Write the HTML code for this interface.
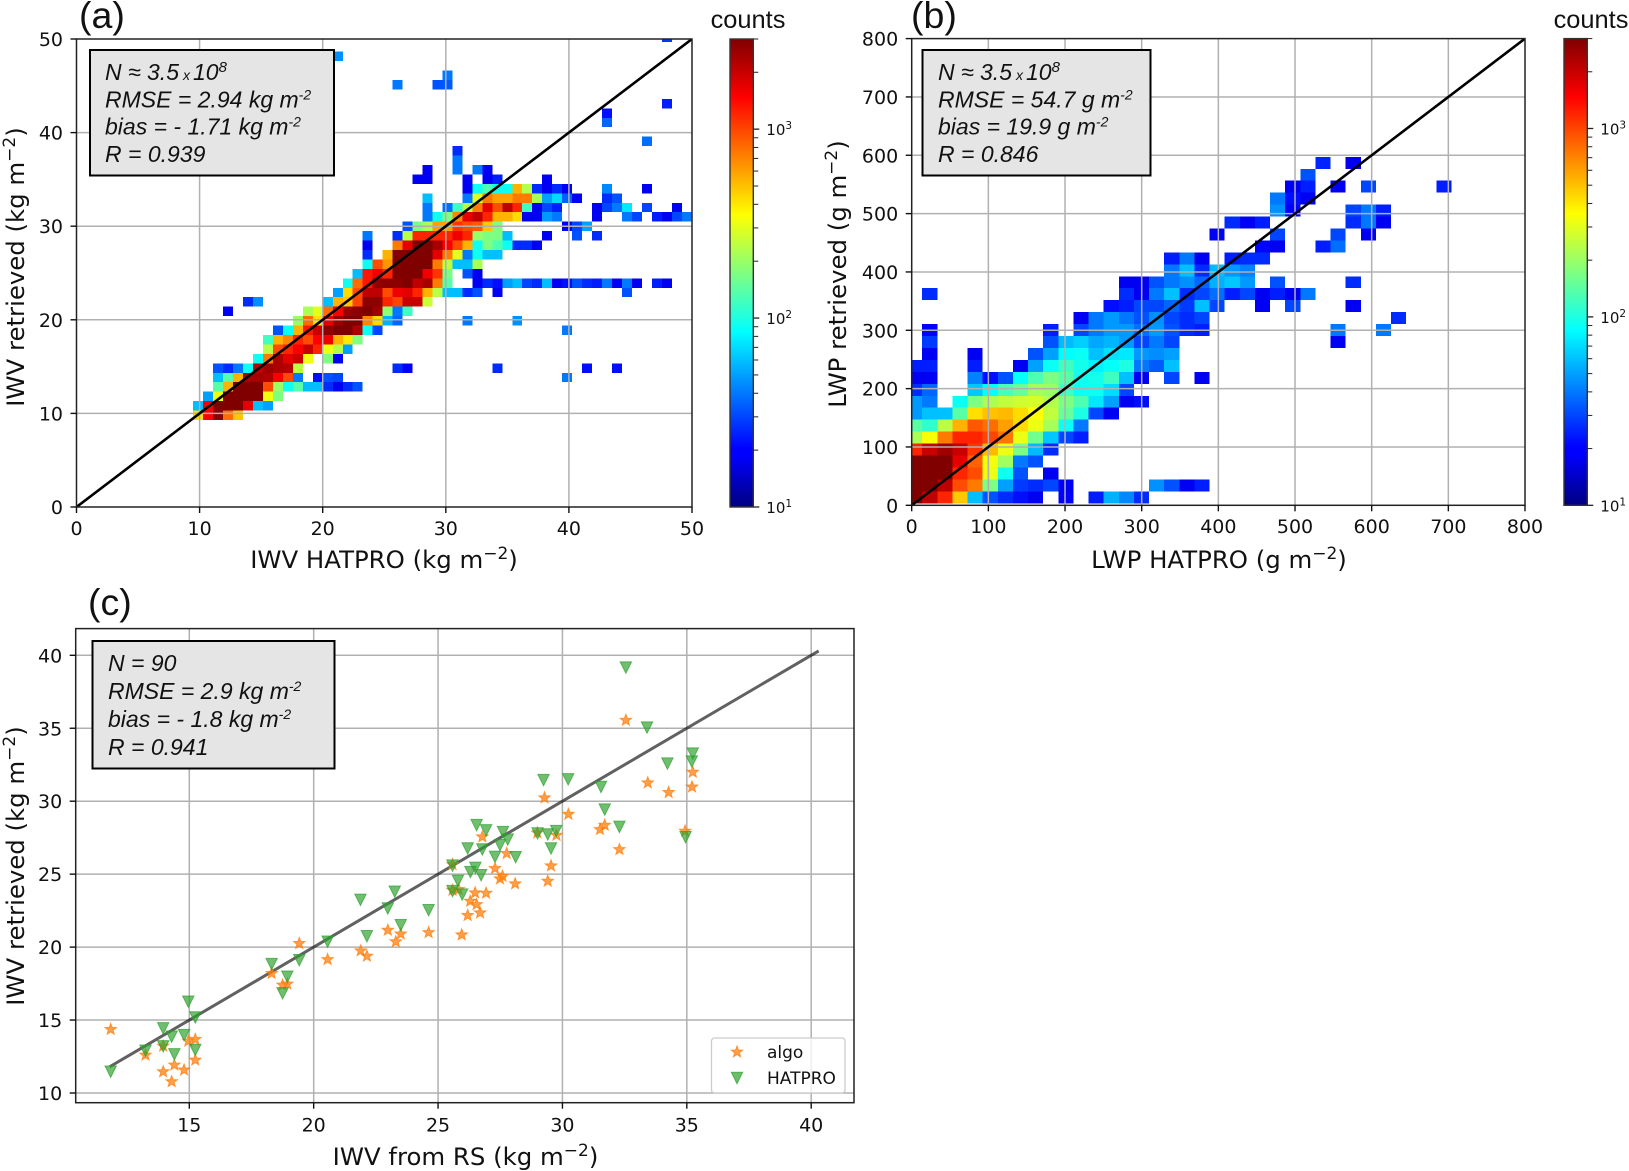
<!DOCTYPE html>
<html lang="en">
<head>
<meta charset="utf-8">
<title>IWV and LWP retrieval comparison</title>
<style>
html,body{margin:0;padding:0;background:#fff;width:1629px;height:1171px;overflow:hidden}
svg{display:block}
.tick{font-family:"DejaVu Sans","Liberation Sans",sans-serif;font-size:19px;fill:#111}
.axis{font-family:"DejaVu Sans","Liberation Sans",sans-serif;font-size:24.4px;fill:#111}
.panel{font-family:"Liberation Sans",sans-serif;font-size:37.5px;fill:#111}
.stats{font-family:"Liberation Sans",sans-serif;font-size:23px;font-style:italic;fill:#111}
.cb{font-family:"Liberation Sans",sans-serif;font-size:25.4px;fill:#111}
.leg{font-family:"DejaVu Sans","Liberation Sans",sans-serif;font-size:17px;fill:#111}
</style>
</head>
<body>
<svg id="figure" xmlns="http://www.w3.org/2000/svg" width="1629" height="1171" viewBox="0 0 1629 1171">
<defs>
<clipPath id="clip-a"><rect x="76.5" y="39" width="615.5" height="468"/></clipPath>
<clipPath id="clip-b"><rect x="911.7" y="38.6" width="613.3" height="466.7"/></clipPath>
<clipPath id="clip-c"><rect x="75.7" y="628.6" width="778.3" height="474.1"/></clipPath>
<linearGradient id="jet-gradient" x1="0" y1="1" x2="0" y2="0">
<stop offset="0" stop-color="#000080"/><stop offset="0.11" stop-color="#0000ff"/><stop offset="0.125" stop-color="#0000ff"/>
<stop offset="0.375" stop-color="#00ffff"/><stop offset="0.5" stop-color="#80ff80"/><stop offset="0.625" stop-color="#ffff00"/>
<stop offset="0.875" stop-color="#ff0000"/><stop offset="1" stop-color="#800000"/>
</linearGradient>
</defs>

<g id="panel-a">
<g id="a-cells" clip-path="url(#clip-a)"></g>
<g id="a-grid"></g>
<line id="a-diag" stroke="#000" stroke-width="2.6" clip-path="url(#clip-a)"/>
<rect x="76.5" y="39" width="615.5" height="468" fill="none" stroke="#222" stroke-width="1.5"/>
<g id="a-ticks"></g>
<rect x="90" y="50" width="244" height="125.5" fill="#e5e5e5" stroke="#000" stroke-width="2"/>
<text class="stats" x="105" y="80">N ≈ 3.5<tspan dx="4" font-size="14">x</tspan><tspan dx="3">10</tspan><tspan dy="-8" font-size="15">8</tspan></text>
<text class="stats" x="105" y="107.5">RMSE = 2.94 kg m<tspan dy="-8" font-size="14">-2</tspan></text>
<text class="stats" x="105" y="134.5">bias = - 1.71 kg m<tspan dy="-8" font-size="14">-2</tspan></text>
<text class="stats" x="105" y="162">R = 0.939</text>
<text class="panel" x="79" y="28">(a)</text>
<text class="axis" x="384" y="568" text-anchor="middle">IWV HATPRO (kg m<tspan dy="-9" font-size="17">−2</tspan><tspan dy="9">)</tspan></text>
<text class="axis" transform="translate(24,267) rotate(-90)" text-anchor="middle">IWV retrieved (kg m<tspan dy="-9" font-size="17">−2</tspan><tspan dy="9">)</tspan></text>
<rect x="730" y="39" width="23.3" height="468" fill="url(#jet-gradient)" stroke="#333" stroke-width="1.4"/>
<g id="a-cbar"></g>
<text class="cb" x="748" y="28" text-anchor="middle">counts</text>
</g>

<g id="panel-b">
<g id="b-cells" clip-path="url(#clip-b)"></g>
<g id="b-grid"></g>
<line id="b-diag" stroke="#000" stroke-width="2.6" clip-path="url(#clip-b)"/>
<rect x="911.7" y="38.6" width="613.3" height="466.7" fill="none" stroke="#222" stroke-width="1.5"/>
<g id="b-ticks"></g>
<rect x="922.5" y="50" width="228" height="125.5" fill="#e5e5e5" stroke="#000" stroke-width="2"/>
<text class="stats" x="938" y="80">N ≈ 3.5<tspan dx="4" font-size="14">x</tspan><tspan dx="3">10</tspan><tspan dy="-8" font-size="15">8</tspan></text>
<text class="stats" x="938" y="107.5">RMSE = 54.7 g m<tspan dy="-8" font-size="14">-2</tspan></text>
<text class="stats" x="938" y="134.5">bias = 19.9 g m<tspan dy="-8" font-size="14">-2</tspan></text>
<text class="stats" x="938" y="162">R = 0.846</text>
<text class="panel" x="911" y="28">(b)</text>
<text class="axis" x="1219" y="568" text-anchor="middle">LWP HATPRO (g m<tspan dy="-9" font-size="17">−2</tspan><tspan dy="9">)</tspan></text>
<text class="axis" transform="translate(846,274) rotate(-90)" text-anchor="middle">LWP retrieved (g m<tspan dy="-9" font-size="17">−2</tspan><tspan dy="9">)</tspan></text>
<rect x="1564" y="38.6" width="23.3" height="466.7" fill="url(#jet-gradient)" stroke="#333" stroke-width="1.4"/>
<g id="b-cbar"></g>
<text class="cb" x="1591" y="28" text-anchor="middle">counts</text>
</g>

<g id="panel-c">
<g id="c-grid"></g>
<line id="c-fit" stroke="#000" stroke-opacity="0.62" stroke-width="3"/>
<g id="c-marks" clip-path="url(#clip-c)"></g>
<rect x="75.7" y="628.6" width="778.3" height="474.1" fill="none" stroke="#222" stroke-width="1.5"/>
<g id="c-ticks"></g>
<rect x="92.5" y="641" width="242" height="127.5" fill="#e5e5e5" stroke="#000" stroke-width="2"/>
<text class="stats" x="108" y="671">N = 90</text>
<text class="stats" x="108" y="699">RMSE = 2.9 kg m<tspan dy="-8" font-size="14">-2</tspan></text>
<text class="stats" x="108" y="727">bias = - 1.8 kg m<tspan dy="-8" font-size="14">-2</tspan></text>
<text class="stats" x="108" y="755">R = 0.941</text>
<text class="panel" x="88" y="615">(c)</text>
<text class="axis" x="465.5" y="1165" text-anchor="middle">IWV from RS (kg m<tspan dy="-9" font-size="17">−2</tspan><tspan dy="9">)</tspan></text>
<text class="axis" transform="translate(24,866) rotate(-90)" text-anchor="middle">IWV retrieved (kg m<tspan dy="-9" font-size="17">−2</tspan><tspan dy="9">)</tspan></text>
<g>
<rect x="711.5" y="1038" width="133.5" height="55" rx="3" fill="#fff" fill-opacity="0.8" stroke="#ccc" stroke-width="1.3"/>
<path id="legend-star" fill="#ff7f0e" fill-opacity="0.75" stroke="#ff7f0e" stroke-opacity="0.75"/>
<text class="leg" x="767" y="1058">algo</text>
<path id="legend-tri" fill="#2ca02c" fill-opacity="0.7" stroke="#2ca02c" stroke-opacity="0.7"/>
<text class="leg" x="767" y="1084">HATPRO</text>
</g>
</g>
</svg>

<script>
/* ---------- chart data ---------- */
const iwvTicks = [0, 10, 20, 30, 40, 50];
const lwpTicks = [0, 100, 200, 300, 400, 500, 600, 700, 800];
const scatterXTicks = [15, 20, 25, 30, 35, 40];
const scatterYTicks = [10, 15, 20, 25, 30, 35, 40];
const colorbarMajorTicks = [10, 100, 1000];
const colorbarMinorTicks = [20, 30, 40, 50, 60, 70, 80, 90, 200, 300, 400, 500, 600, 700, 800, 900, 2000, 3000];
const countsMin = 10;
const countsMax = 3000;

/* each entry: y-bin index, first x-bin index, then counts for consecutive x-bins */
const iwvHeatRows = [
[0,0,429,1500,2800,800,480],
[1,0,59,1500,3000,3000,3000,1700,59,50],
[2,1,50,324,3000,3000,3000,3000,324,173],
[3,2,138,540,3000,3000,3000,960,200,92,138,59,59,26,19,26,32],
[4,2,59,138,540,2400,2400,2300,1500,960,40,0,22,32,30],
[4,37,40],
[5,2,32,26,40,92,2100,2500,2300,2200,237],
[5,20,26,19],[5,30,26],[5,39,22],[5,42,22],
[6,6,92,740,2300,1700,2000,324,0,173,19],
[7,7,237,960,1200,1500,2000,1200,324,237,50],
[8,7,120,540,700,1200,960,1500,1600,540,400,173],
[9,8,32,92,540,1300,2000,2800,3000,3000,2300,92,30],
[9,37,40],
[10,10,200,800,420,1700,2600,3000,3000,700,430,55,36],
[10,27,40],[10,32,46],
[11,3,19],
[11,11,220,300,800,1500,2600,2800,3000,2500,190,40,120],
[12,5,26,45],
[12,13,59,540,480,1000,2800,2800,1200,1000,2000,2000,260],
[13,14,50,429,960,2100,2100,960,1600,1700,1200,540,237,59,59,26,32,0,19],
[13,43,32],
[14,15,92,800,1300,2700,2800,2800,3000,2100,2400,740,138,0,0,19,26,22,50,59,30,26,59,19,22,32,26,24,40,19,40,19,0,24,19],
[15,16,59,1300,1600,1200,3000,3000,3000,1600,1100,165,0,32,19],
[16,17,92,960,640,3000,3000,3000,3000,740,237,59,59,220],
[17,17,26,0,540,3000,3000,3000,3000,1700,740,300,40,92,60,60],
[18,17,19,0,0,740,1700,3000,3000,2400,1500,960,540,92,170,130,92,26,26,19],
[19,17,40,0,0,26,237,1200,1200,1200,1200,1600,1200,200,170,170,59,0,0,0,19,0,0,32,0,26],
[20,21,32,170,220,600,600,1100,960,900,480,170,0,0,0,0,0,0,19,30,50],
[21,23,40,92,170,700,1700,2100,1200,540,540,429,19,19,48,40,0,0,0,19,0,0,40,30,0,24,19,30,40],
[22,23,40,0,38,120,240,740,1700,960,2100,1200,120,19,30,24,0,0,0,19,30,40,75,0,30,0,0,19],
[23,23,59,0,0,0,40,300,740,600,600,740,740,220,50,70,35,19,0,0,26,32],
[24,27,19,92,130,92,92,540,230,26,19,26,19,0,0,0,44,0,0,0,19],
[25,22,19,19,0,0,0,19,0,19,24,0,0,0,0,19],
[26,23,19,0,0,40,0,40,19],
[27,26,40],
[28,26,26],
[29,45,38],
[31,41,36],
[32,41,22],
[33,47,24],
[35,20,40,0,0,0,32,34],
[36,25,40],
[38,14,46],
[40,47,28]
];

const lwpHeatRows = [
[0,0,3000,2100,1200,480,59,32,26,22,19,0,20,0,24,55,44,26],
[1,0,3000,3000,2100,960,740,170,50,28,26,30,19,0,0,0,0,0,46,32,19,24],
[2,0,3000,3000,3000,1200,960,320,92,32,0,19],
[3,0,3000,3000,3000,1700,850,330,210,40,32],
[4,0,1200,2000,2500,2000,1100,520,320,170,58,26],
[5,0,220,340,740,1200,1200,1000,760,320,160,62,30,24],
[6,0,140,110,240,540,900,800,600,430,320,220,90,40],
[7,0,48,60,60,140,420,500,520,430,350,250,150,100,30,19],
[8,0,48,40,0,90,170,220,250,270,280,230,170,130,75,50,19,22],
[9,0,26,36,0,0,62,85,125,150,210,200,120,90,92,70,30],
[10,0,19,19,0,0,42,22,32,88,130,170,140,92,95,120,60,19,0,30,0,19],
[10,19,19],
[11,0,24,24,0,0,24,0,0,19,50,90,120,95,80,88,100,40,34,60],
[12,1,19,0,0,19,0,0,0,32,50,85,90,60,72,75,48,45,50],
[13,1,28,0,0,0,0,0,0,0,32,58,65,52,56,48,30,40,30],
[13,28,19],
[14,1,20,0,0,0,0,0,0,0,24,0,30,40,48,48,38,48,32,26,24],
[14,28,40,0,0,40],
[15,11,19,40,48,40,32,46,30,26,30],
[15,32,26],
[16,13,22,24,30,30,36,28,60,30],
[16,23,19,0,30,0,0,0,19],
[17,1,26],
[17,14,26,19,40,60,26,30,38,24,30,19,24,19,40],
[18,14,19,19,32,40,46,36,55,62,48,0,32,0,0,0,0,26],
[19,17,40,60,26,58,48,42],
[20,17,24,40,19,0,24,26,26],
[21,23,21,19,0,0,24,38],
[22,20,19,0,0,0,30,0,0,0,30,0,19],
[23,21,26,19,24,0,0,0,0,0,26,40,19],
[24,24,46,20,0,0,0,30,40,24],
[25,24,40,22,19],
[26,25,19,24,0,19,0,30,0,0,0,0,24],
[27,26,32],
[28,27,25,0,19]
];

const algoX = [11.84,13.24,13.95,13.95,14.29,14.4,14.79,14.96,15.24,15.24,18.31,18.75,18.94,19.42,20.56,21.89,22.14,22.98,23.3,23.5,24.62,25.95,29.28,30.24,33.43,34.27,35.21,34.93,31.51,31.7,32.29,26.78,28.99,29.76,27.76,29.54,29.41,25.58,27.29,27.59,27.49,28.1,25.58,25.83,26.49,26.93,26.29,26.55,26.69,26.19,32.55,35.24];
const algoY = [14.36,12.6,13.22,11.46,10.78,11.92,11.58,13.56,13.68,12.26,18.2,17.4,17.47,20.25,19.15,19.75,19.38,21.16,20.37,20.9,21.0,20.84,30.23,29.11,31.26,30.6,30.98,27.95,28.06,28.36,26.69,27.56,27.83,27.67,26.42,25.57,24.52,25.66,25.39,24.86,24.68,24.34,23.9,23.95,23.72,23.7,23.15,22.92,22.35,22.17,35.55,31.99];
const hatproX = [11.84,13.24,13.95,13.95,14.29,14.4,14.79,14.96,15.24,15.24,18.31,18.75,18.94,19.42,20.56,21.88,22.14,22.98,23.26,23.5,24.62,31.55,31.7,32.29,34.95,29.24,30.23,26.55,26.93,27.61,27.8,29.0,29.41,29.75,29.54,27.49,26.78,26.19,27.29,28.12,25.58,26.5,26.3,26.73,25.8,25.58,25.97,32.55,33.4,35.24,35.2,34.22];
const hatproY = [11.46,12.9,14.43,13.2,13.86,12.65,13.97,16.26,15.18,12.95,18.84,16.83,17.97,19.1,20.37,23.24,20.75,22.65,23.8,21.5,22.53,30.98,29.43,28.24,27.53,31.45,31.5,28.36,28.0,27.88,27.37,27.79,27.72,27.95,26.76,26.99,26.69,26.76,26.19,26.16,25.59,25.43,25.14,24.93,24.54,23.84,23.6,39.16,35.05,33.26,32.72,32.58];
const referenceLine = [11.8, 40.3];

/* ---------- axis functions ---------- */
const NS = 'http://www.w3.org/2000/svg';
function linear(d0, d1, r0, r1) { return v => r0 + (v - d0) * (r1 - r0) / (d1 - d0); }
const axA = { x: linear(0, 50, 76.5, 692), y: linear(0, 50, 507, 39) };
const axB = { x: linear(0, 800, 911.7, 1525), y: linear(0, 800, 505.3, 38.6) };
const axC = { x: linear(15, 40, 189.3, 811.2), y: linear(10, 40, 1093, 655.3) };
function logPos(v, bottom, top) { return bottom + (Math.log10(v) - Math.log10(countsMin)) / (Math.log10(countsMax) - Math.log10(countsMin)) * (top - bottom); }
function clamp(v) { return Math.max(0, Math.min(1, v)); }
function jet(t) {
  const r = clamp(Math.min(4 * t - 1.5, -4 * t + 4.5));
  const g = clamp(Math.min(4 * t - 0.5, -4 * t + 3.5));
  const b = clamp(Math.min(4 * t + 0.5, -4 * t + 2.5));
  return 'rgb(' + Math.round(r * 255) + ',' + Math.round(g * 255) + ',' + Math.round(b * 255) + ')';
}
function countColor(v) { return jet(clamp(Math.log(v / countsMin) / Math.log(countsMax / countsMin))); }
function make(tag, parent, attrs) {
  const e = document.createElementNS(NS, tag);
  for (const k in attrs) e.setAttribute(k, attrs[k]);
  parent.appendChild(e);
  return e;
}

function drawHeat(parentId, rows, ax, x0, dx, y0, dy) {
  const parent = document.getElementById(parentId);
  rows.forEach(row => {
    const rowBin = row[0], firstCol = row[1];
    row.slice(2).forEach((count, i) => {
      if (!count) return;
      const col = firstCol + i;
      const left = ax.x(x0 + col * dx), right = ax.x(x0 + (col + 1) * dx);
      const bottom = ax.y(y0 + rowBin * dy), top = ax.y(y0 + (rowBin + 1) * dy);
      const cell = make('rect', parent, { x: left, y: top, width: right - left, height: bottom - top, fill: countColor(count), 'shape-rendering': 'crispEdges' });
      
      
    });
  });
}

function drawGrid(parentId, ax, xTicks, yTicks, left, right, top, bottom) {
  const parent = document.getElementById(parentId);
  xTicks.forEach(t => {
    const g = make('line', parent, { x1: ax.x(t), x2: ax.x(t), y1: top, y2: bottom, stroke: '#b0b0b0', 'stroke-width': 1.5 });
    
    
  });
  yTicks.forEach(t => {
    const g = make('line', parent, { x1: left, x2: right, y1: ax.y(t), y2: ax.y(t), stroke: '#b0b0b0', 'stroke-width': 1.5 });
    
    
  });
}

function drawTicks(parentId, ax, xTicks, yTicks, left, bottom, xBase) {
  const parent = document.getElementById(parentId);
  xTicks.forEach(t => {
    const m = make('line', parent, { x1: ax.x(t), x2: ax.x(t), y1: bottom, y2: bottom + 6, stroke: '#111', 'stroke-width': 1.4 });
    
    
    const l = make('text', parent, { x: ax.x(t), y: xBase, 'text-anchor': 'middle', class: 'tick' });
    
    
    l.textContent = t;
  });
  yTicks.forEach(t => {
    const m = make('line', parent, { x1: left - 6, x2: left, y1: ax.y(t), y2: ax.y(t), stroke: '#111', 'stroke-width': 1.4 });
    
    
    const l = make('text', parent, { x: left - 13.5, y: ax.y(t) + 7, 'text-anchor': 'end', class: 'tick' });
    
    
    l.textContent = t;
  });
}

function drawColorbarTicks(parentId, right, bottom, top) {
  const parent = document.getElementById(parentId);
  colorbarMinorTicks.forEach(t => {
    const y = logPos(t, bottom, top);
    const m = make('line', parent, { x1: right, x2: right + 5, y1: y, y2: y, stroke: '#222', 'stroke-width': 1 });
    
    
  });
  colorbarMajorTicks.forEach(t => {
    const y = logPos(t, bottom, top);
    const m = make('line', parent, { x1: right, x2: right + 6, y1: y, y2: y, stroke: '#222', 'stroke-width': 1.3 });
    
    
    const l = make('text', parent, { x: right + 13, y: y + 6, class: 'tick', 'font-size': '15' });
    
    
    l.style.fontSize = '15px';
    l.textContent = '10';
    const sup = make('tspan', l, { dy: -6 });
    sup.style.fontSize = '10.5px';
    sup.textContent = String(Math.round(Math.log10(t)));
  });
}

function starPath(cx, cy, r) {
  let d = '';
  for (let i = 0; i < 10; i++) {
    const rad = i % 2 ? r * 0.42 : r;
    const a = -Math.PI / 2 + i * Math.PI / 5;
    d += (i ? 'L' : 'M') + (cx + rad * Math.cos(a)).toFixed(2) + ' ' + (cy + rad * Math.sin(a)).toFixed(2);
  }
  return d + 'Z';
}
function triPath(cx, cy, r) {
  return 'M' + (cx - r) + ' ' + (cy - r) + 'L' + (cx + r) + ' ' + (cy - r) + 'L' + cx + ' ' + (cy + r) + 'Z';
}

/* ---------- draw ---------- */
drawHeat('a-cells', iwvHeatRows, axA, 9.48, 0.81, 9.295, 1.009);
drawHeat('b-cells', lwpHeatRows, axB, -6.13, 19.73, 3.43, 20.48);
drawGrid('a-grid', axA, iwvTicks.slice(1, 5), iwvTicks.slice(1, 5), 76.5, 692, 39, 507);
drawGrid('b-grid', axB, lwpTicks.slice(1, 8), lwpTicks.slice(1, 8), 911.7, 1525, 38.6, 505.3);
drawGrid('c-grid', axC, scatterXTicks, scatterYTicks, 75.7, 854, 628.6, 1102.7);
drawTicks('a-ticks', axA, iwvTicks, iwvTicks, 76.5, 507, 535);
drawTicks('b-ticks', axB, lwpTicks, lwpTicks, 911.7, 505.3, 533);
drawTicks('c-ticks', axC, scatterXTicks, scatterYTicks, 75.7, 1102.7, 1131.5);
drawColorbarTicks('a-cbar', 753.3, 507, 39);
drawColorbarTicks('b-cbar', 1587.3, 505.3, 38.6);

function setLine(id, ax, lo, hi) {
  const l = document.getElementById(id);
  l.setAttribute('x1', ax.x(lo));
  l.setAttribute('y1', ax.y(lo));
  l.setAttribute('x2', ax.x(hi));
  l.setAttribute('y2', ax.y(hi));
}
setLine('a-diag', axA, iwvTicks[0], iwvTicks[5]);
setLine('b-diag', axB, lwpTicks[0], lwpTicks[8]);
setLine('c-fit', axC, referenceLine[0], referenceLine[1]);

const marks = document.getElementById('c-marks');
algoX.forEach((v, i) => {
  const p = make('path', marks, { d: starPath(axC.x(v), axC.y(algoY[i]), 6), fill: '#ff7f0e', 'fill-opacity': 0.75, stroke: '#ff7f0e', 'stroke-opacity': 0.75, 'stroke-width': 1 });
  
  
});
hatproX.forEach((v, i) => {
  const p = make('path', marks, { d: triPath(axC.x(v), axC.y(hatproY[i]), 5.7), fill: '#2ca02c', 'fill-opacity': 0.68, stroke: '#2ca02c', 'stroke-opacity': 0.7, 'stroke-width': 1 });
  
  
});
document.getElementById('legend-star').setAttribute('d', starPath(737, 1052, 6));
document.getElementById('legend-tri').setAttribute('d', triPath(737, 1078, 5.7));
</script>
</body>
</html>
